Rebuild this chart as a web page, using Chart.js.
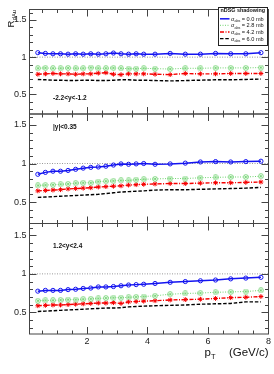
<!DOCTYPE html>
<html>
<head>
<meta charset="utf-8">
<script src="https://cdn.jsdelivr.net/npm/chart.js@4.4.1/dist/chart.umd.min.js"></script>
<style>
html, body { margin: 0; padding: 0; background: #fff; }
#wrap { position: relative; width: 274px; height: 374px; }
canvas { position: absolute; left: 0; top: 0; }
</style>
</head>
<body>
<div id="wrap">
  <canvas id="c1" width="274" height="374"></canvas>
  <canvas id="c2" width="274" height="374"></canvas>
  <canvas id="c3" width="274" height="374"></canvas>
</div>
<script>
// pT bin centres (GeV/c)
const pt = [0.375, 0.625, 0.875, 1.125, 1.375, 1.625, 1.875, 2.125, 2.375, 2.625, 2.875, 3.125, 3.375, 3.625, 3.875,
            4.25, 4.75, 5.25, 5.75, 6.25, 6.75, 7.25, 7.75];
const rapidity = ['-2.2<y<-1.2', '|y|<0.35', '1.2<y<2.4'];
const sigmaAbs = ['0.0', '2.8', '4.2', '6.0'];
const xTicks = [2, 4, 6, 8];
const yTicks = [0.5, 1, 1.5];

// R_dAu, backward rapidity
const r00_bwd = [1.06, 1.05, 1.045, 1.045, 1.04, 1.045, 1.04, 1.045, 1.04, 1.045, 1.055, 1.045, 1.04, 1.045, 1.04, 1.04, 1.05, 1.04, 1.04, 1.05, 1.045, 1.045, 1.06];
const r28_bwd = [0.85, 0.855, 0.85, 0.85, 0.855, 0.85, 0.85, 0.86, 0.85, 0.85, 0.855, 0.85, 0.845, 0.845, 0.85, 0.845, 0.84, 0.85, 0.85, 0.855, 0.855, 0.855, 0.86];
const r42_bwd = [0.77, 0.775, 0.78, 0.775, 0.775, 0.77, 0.775, 0.775, 0.785, 0.79, 0.77, 0.765, 0.775, 0.775, 0.775, 0.77, 0.765, 0.78, 0.775, 0.775, 0.78, 0.78, 0.78];
const r60_bwd = [0.70, 0.695, 0.69, 0.69, 0.685, 0.685, 0.69, 0.69, 0.685, 0.685, 0.69, 0.695, 0.695, 0.69, 0.69, 0.685, 0.68, 0.685, 0.69, 0.695, 0.695, 0.70, 0.705];
// mid rapidity
const r00_mid = [0.86, 0.885, 0.90, 0.90, 0.91, 0.925, 0.94, 0.95, 0.955, 0.965, 0.98, 0.995, 0.99, 0.995, 1.0, 0.99, 0.995, 1.005, 1.02, 1.025, 1.02, 1.025, 1.03];
const r28_mid = [0.715, 0.72, 0.725, 0.73, 0.735, 0.745, 0.75, 0.75, 0.765, 0.77, 0.775, 0.78, 0.78, 0.79, 0.795, 0.80, 0.805, 0.805, 0.815, 0.82, 0.825, 0.825, 0.835];
const r42_mid = [0.645, 0.65, 0.655, 0.66, 0.67, 0.675, 0.68, 0.685, 0.695, 0.70, 0.705, 0.71, 0.72, 0.725, 0.73, 0.735, 0.74, 0.74, 0.745, 0.75, 0.75, 0.755, 0.76];
const r60_mid = [0.56, 0.565, 0.57, 0.575, 0.58, 0.585, 0.59, 0.595, 0.60, 0.61, 0.62, 0.63, 0.635, 0.64, 0.645, 0.655, 0.66, 0.66, 0.665, 0.67, 0.675, 0.68, 0.69];
// forward rapidity
const r00_fwd = [0.775, 0.785, 0.785, 0.785, 0.795, 0.80, 0.81, 0.815, 0.83, 0.83, 0.835, 0.845, 0.855, 0.86, 0.865, 0.875, 0.89, 0.90, 0.91, 0.92, 0.935, 0.945, 0.955];
const r28_fwd = [0.65, 0.655, 0.655, 0.66, 0.665, 0.665, 0.67, 0.675, 0.68, 0.685, 0.69, 0.69, 0.695, 0.70, 0.705, 0.715, 0.735, 0.745, 0.75, 0.76, 0.765, 0.77, 0.785];
const r42_fwd = [0.585, 0.59, 0.595, 0.595, 0.60, 0.605, 0.61, 0.615, 0.62, 0.62, 0.625, 0.615, 0.635, 0.64, 0.645, 0.65, 0.66, 0.665, 0.67, 0.68, 0.69, 0.695, 0.705];
const r60_fwd = [0.51, 0.515, 0.52, 0.525, 0.53, 0.535, 0.54, 0.545, 0.55, 0.555, 0.555, 0.56, 0.57, 0.575, 0.58, 0.585, 0.59, 0.595, 0.605, 0.61, 0.615, 0.635, 0.635];

// unity reference line
const refX = [0.1, 8];
const refY = [1, 1];

const panelData = [
  [r00_bwd, r28_bwd, r42_bwd, r60_bwd],
  [r00_mid, r28_mid, r42_mid, r60_mid],
  [r00_fwd, r28_fwd, r42_fwd, r60_fwd]
];

const FONT = '"Liberation Sans", Arial, Helvetica, sans-serif';

// pad geometry
const geom = [
  { top: 9.5,   bottom: 114,   min: 0.235, max: 1.641, lx: 53, ly: 98 },
  { top: 114,   bottom: 223.5, min: 0.221, max: 1.643, lx: 53, ly: 127 },
  { top: 223.5, bottom: 334,   min: 0.217, max: 1.656, lx: 53, ly: 246 }
];

function ringCross(color) {
  const c = document.createElement('canvas');
  c.width = 6; c.height = 6;
  const x = c.getContext('2d');
  x.strokeStyle = color;
  x.lineWidth = 0.8;
  x.beginPath(); x.arc(3, 3, 2.4, 0, 2 * Math.PI); x.stroke();
  x.beginPath();
  x.moveTo(1.4, 1.4); x.lineTo(4.6, 4.6);
  x.moveTo(4.6, 1.4); x.lineTo(1.4, 4.6);
  x.stroke();
  return c;
}

const styles = [
  { color: 'rgb(20,20,240)', dash: [], width: 1.5, point: 'circle', radius: 2.1 },
  { color: 'rgb(110,210,110)', dash: [1, 1.5], width: 1, point: ringCross('rgb(110,210,110)'), radius: 3 },
  { color: 'rgb(245,0,0)', dash: [4, 1.5, 1, 1.5], width: 1.4, point: 'star', radius: 2.4 },
  { color: '#000', dash: [3.5, 1.8], width: 1.4, point: false, radius: 0 }
];

function drawSigma(ctx, x, y, val) {
  ctx.font = '5.6px ' + FONT;
  ctx.fillText('\u03c3', x, y);
  let w = ctx.measureText('\u03c3').width;
  ctx.font = '3.6px ' + FONT;
  ctx.fillText('abs', x + w, y + 1.3);
  w += ctx.measureText('abs').width;
  ctx.font = '5.6px ' + FONT;
  ctx.fillText(' = ' + val + ' mb', x + w, y);
}

const rootFrame = {
  id: 'rootFrame',
  afterDatasetsDraw(chart, args, opts) {
    const ctx = chart.ctx;
    const a = chart.chartArea;
    const xs = chart.scales.x, ys = chart.scales.y;
    ctx.save();
    ctx.strokeStyle = '#444';
    ctx.lineWidth = 1;
    ctx.strokeRect(a.left, a.top, a.right - a.left, a.bottom - a.top);
    ctx.beginPath();
    // y ticks, both sides, inward
    for (let i = 3; i <= 16; i++) {
      const v = i / 10;
      if (v < ys.min || v > ys.max) continue;
      const y = Math.round(ys.getPixelForValue(v)) + 0.5;
      const len = (i % 5 === 0) ? 7 : 3.5;
      ctx.moveTo(a.left, y); ctx.lineTo(a.left + len, y);
      ctx.moveTo(a.right, y); ctx.lineTo(a.right - len, y);
    }
    // x ticks, top and bottom, inward
    for (let i = 1; i <= 15; i++) {
      const v = i / 2;
      const x = Math.round(xs.getPixelForValue(v)) + 0.5;
      const len = (i % 4 === 0) ? 7 : 3.5;
      ctx.moveTo(x, a.bottom); ctx.lineTo(x, a.bottom - len);
      ctx.moveTo(x, a.top); ctx.lineTo(x, a.top + len);
    }
    ctx.stroke();

    ctx.fillStyle = '#111';
    ctx.textBaseline = 'middle';
    ctx.font = 'bold 6.5px ' + FONT;
    ctx.fillText(rapidity[opts.k], geom[opts.k].lx, geom[opts.k].ly);
    ctx.textBaseline = 'alphabetic';

    if (opts.k === 0) {
      // y title R_dAu
      ctx.save();
      ctx.translate(14, 27.5);
      ctx.rotate(-Math.PI / 2);
      ctx.font = '9.5px ' + FONT;
      ctx.fillText('R', 0, 0);
      const w = ctx.measureText('R').width;
      ctx.font = '5.8px ' + FONT;
      ctx.fillText('dAu', w + 0.3, 1.8);
      ctx.restore();

      // legend
      const lx = 218.5, ly = 7.5, lw = 49, lh = 38;
      ctx.fillStyle = '#fff';
      ctx.fillRect(lx, ly, lw, lh);
      ctx.strokeStyle = '#222';
      ctx.lineWidth = 1;
      ctx.strokeRect(lx, ly, lw, lh);
      ctx.fillStyle = '#111';
      ctx.font = 'bold 5.4px ' + FONT;
      ctx.fillText('nDSG shadowing', 220.5, 11.8);
      const rows = [18.8, 25.3, 32, 38.6];
      for (let s = 0; s < 4; s++) {
        const st = styles[s];
        ctx.strokeStyle = st.color;
        ctx.lineWidth = st.width;
        ctx.setLineDash(st.dash);
        ctx.beginPath();
        ctx.moveTo(220, rows[s]); ctx.lineTo(229.5, rows[s]);
        ctx.stroke();
        ctx.setLineDash([]);
        ctx.fillStyle = '#111';
        drawSigma(ctx, 231, rows[s] + 2, sigmaAbs[s]);
      }
    }
    if (opts.k === 2) {
      // x title p_T (GeV/c)
      ctx.font = '11.5px ' + FONT;
      ctx.textAlign = 'left';
      ctx.fillText('p', 204.5, 356);
      const w = ctx.measureText('p').width;
      ctx.font = '7.5px ' + FONT;
      ctx.fillText('T', 204.5 + w, 359);
      ctx.font = '11.5px ' + FONT;
      ctx.textAlign = 'right';
      ctx.fillText('(GeV/c)', 268.5, 356);
    }
    ctx.restore();
  }
};

function makePanel(id, k) {
  const g = geom[k];
  const showX = k === 2;
  const sets = [{
    data: refX.map((x, i) => ({ x: x, y: refY[i] })),
    borderColor: '#999',
    borderWidth: 1,
    borderDash: [1, 1.5],
    pointRadius: 0,
    order: 10
  }];
  panelData[k].forEach((arr, s) => {
    const st = styles[s];
    sets.push({
      data: pt.map((x, i) => ({ x: x, y: arr[i] })),
      borderColor: st.color,
      borderWidth: st.width,
      borderDash: st.dash,
      pointStyle: st.point,
      pointRadius: st.radius,
      pointBorderColor: st.color,
      pointBackgroundColor: 'rgba(0,0,0,0)',
      pointBorderWidth: 1,
      tension: 0,
      order: s + 1
    });
  });

  return new Chart(document.getElementById(id), {
    type: 'line',
    data: { datasets: sets },
    options: {
      responsive: false,
      animation: false,
      devicePixelRatio: 1,
      layout: { padding: { left: 0, right: 5.5, top: g.top, bottom: showX ? 0 : 374 - g.bottom } },
      plugins: {
        legend: { display: false },
        tooltip: { enabled: false },
        rootFrame: { k: k }
      },
      scales: {
        x: {
          type: 'linear',
          min: 0.1,
          max: 8,
          display: showX,
          grid: { display: false, drawTicks: false },
          border: { display: false },
          afterBuildTicks: s => { s.ticks = xTicks.map(v => ({ value: v })); },
          afterFit: s => { s.height = showX ? 40 : 0; },
          ticks: { font: { family: FONT, size: 9 }, color: '#222', padding: 2, maxRotation: 0, autoSkip: false, callback: v => String(v) }
        },
        y: {
          type: 'linear',
          min: g.min,
          max: g.max,
          grid: { display: false, drawTicks: false },
          border: { display: false },
          afterBuildTicks: s => { s.ticks = yTicks.map(v => ({ value: v })); },
          afterFit: s => { s.width = 29.5; },
          ticks: { font: { family: FONT, size: 9 }, color: '#222', padding: 3, autoSkip: false, callback: v => String(v) }
        }
      }
    },
    plugins: [rootFrame]
  });
}

const charts = [
  makePanel('c1', 0),
  makePanel('c2', 1),
  makePanel('c3', 2)
];
</script>
</body>
</html>
